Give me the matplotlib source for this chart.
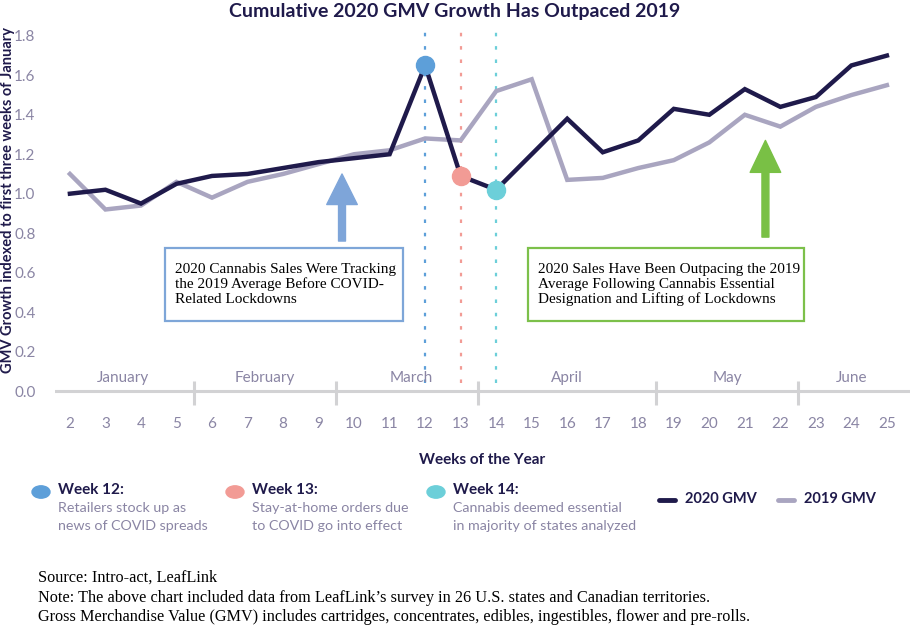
import matplotlib
matplotlib.use('Agg')
import matplotlib.pyplot as plt
from matplotlib.lines import Line2D
from matplotlib.patches import Rectangle, Circle

# Data
weeks = list(range(2, 26))
gmv_2020 = [1.00, 1.02, 0.95, 1.05, 1.09, 1.10, 1.13, 1.16, 1.18, 1.20, 1.65, 1.09,
            1.02, 1.20, 1.38, 1.21, 1.27, 1.43, 1.40, 1.53, 1.44, 1.49, 1.65, 1.70]
gmv_2019 = [1.10, 0.92, 0.94, 1.06, 0.98, 1.06, 1.10, 1.15, 1.20, 1.22, 1.28, 1.27,
            1.52, 1.58, 1.07, 1.08, 1.13, 1.17, 1.26, 1.40, 1.34, 1.44, 1.50, 1.55]
months = ['January', 'February', 'March', 'April', 'May', 'June']
month_centers = [3.5, 7.5, 11.6, 16.0, 20.5, 24.0]
month_breaks = [5.5, 9.5, 13.5, 18.5, 22.5]
event_weeks = [12, 13, 14]
event_colors = ['#5d9fd9', '#f29b95', '#6ccfd9']
event_titles = ['Week 12:', 'Week 13:', 'Week 14:']
event_notes = ['Retailers stock up as\nnews of COVID spreads',
               'Stay-at-home orders due\nto COVID go into effect',
               'Cannabis deemed essential\nin majority of states analyzed']

NAVY = '#1f1a4b'
LAV = '#a9a5c0'
GREY_TXT = '#8a85a4'

plt.rcParams['font.family'] = ['Lato', 'DejaVu Sans']

W, H = 912, 626
fig = plt.figure(figsize=(9.12, 6.26), dpi=100)
ax = fig.add_axes([55 / W, 1 - 406 / H, (910 - 55) / W, (406 - 25) / H])

ax.set_xlim(1.58, 25.65)
ax.set_ylim(-0.076, 1.855)

# event markers
for w, c in zip(event_weeks, event_colors):
    ax.axvline(w, ymin=0.06, ymax=0.99, color=c, lw=1.6, ls=(0, (1.6, 4.4)), zorder=1)

ax.plot(weeks, gmv_2019, color=LAV, lw=3.2, zorder=2, solid_joinstyle='miter')
ax.plot(weeks, gmv_2020, color=NAVY, lw=3.2, zorder=3, solid_joinstyle='miter')
for w, c in zip(event_weeks, event_colors):
    ax.plot(w, gmv_2020[weeks.index(w)], 'o', ms=13, color=c, zorder=4)

# baseline and month separators
ax.axhline(0, color='#d2d2d4', lw=2.2, zorder=0)
ax.vlines(month_breaks, -0.07, 0.05, color='#d2d2d4', lw=2.2, zorder=0)
for m, xc in zip(months, month_centers):
    ax.text(xc, 0.065, m, ha='center', va='center', fontsize=11, color=GREY_TXT)

ax.set_xticks(weeks)
ax.set_xticklabels([str(w) for w in weeks])
ax.set_yticks([0.0, 0.2, 0.4, 0.6, 0.8, 1.0, 1.2, 1.4, 1.6, 1.8])
ax.set_yticklabels(['0.0', '0.2', '0.4', '0.6', '0.8', '1.0', '1.2', '1.4', '1.6', '1.8'])
ax.tick_params(axis='x', length=0, pad=8, labelsize=11, labelcolor=GREY_TXT)
ax.tick_params(axis='y', length=0, pad=14, labelsize=11, labelcolor=GREY_TXT)
for s in ax.spines.values():
    s.set_visible(False)

ax.set_xlabel('Weeks of the Year', fontsize=11, fontweight='bold', color=NAVY, labelpad=16)
fig.text(8 / W, 1 - 200 / H, 'GMV Growth indexed to first three weeks of January',
         rotation=90, ha='center', va='center', fontsize=10.5, fontweight='bold', color=NAVY)
fig.text(455 / W, 1 - 12 / H, 'Cumulative 2020 GMV Growth Has Outpaced 2019',
         ha='center', va='center', fontsize=14, fontweight='bold', color=NAVY)

# arrows
ax.annotate('', xy=(9.66, 1.10), xytext=(9.66, 0.76),
            arrowprops=dict(width=5, headwidth=22, headlength=22, color='#7ea5d9', shrink=0))
ax.annotate('', xy=(21.58, 1.27), xytext=(21.58, 0.78),
            arrowprops=dict(width=5, headwidth=22, headlength=23, color='#79c045', shrink=0))

# annotation boxes
boxes = [
    (165, 248, 238, 73, '#7ea6d8',
     '2020 Cannabis Sales Were Tracking\nthe 2019 Average Before COVID-\nRelated Lockdowns'),
    (528, 248, 276, 73, '#7cc04a',
     '2020 Sales Have Been Outpacing the 2019\nAverage Following Cannabis Essential\nDesignation and Lifting of Lockdowns'),
]
for x0, y0, bw, bh, ec, txt in boxes:
    fig.patches.append(Rectangle((x0 / W, 1 - (y0 + bh) / H), bw / W, bh / H,
                                 transform=fig.transFigure, fill=True, fc='white',
                                 ec=ec, lw=1.6, zorder=5))
    fig.text((x0 + 10) / W, 1 - (y0 + bh / 2) / H, txt, ha='left', va='center',
             fontsize=11, family='Liberation Serif', linespacing=1.15, color='black',
             zorder=6)

# bottom legend
legend_x = [41, 235, 436]
for lx, c, t, n in zip(legend_x, event_colors, event_titles, event_notes):
    fig.patches.append(Circle((lx / W, 1 - 492 / H), 9 / W, transform=fig.transFigure,
                              color=c))
    fig.text((lx + 17) / W, 1 - 490 / H, t, ha='left', va='center', fontsize=11,
             fontweight='bold', color=NAVY)
    fig.text((lx + 17) / W, 1 - 517 / H, n, ha='left', va='center', fontsize=10.3,
             color=GREY_TXT, linespacing=1.5)

for x0, c, lab in [(659, NAVY, '2020 GMV'), (778, LAV, '2019 GMV')]:
    fig.add_artist(Line2D([x0 / W, (x0 + 16) / W], [1 - 500 / H, 1 - 500 / H],
                          color=c, lw=3.5, solid_capstyle='round',
                          transform=fig.transFigure))
    fig.text((x0 + 26) / W, 1 - 499 / H, lab, ha='left', va='center', fontsize=10.5,
             fontweight='bold', color=NAVY)

notes = ['Source: Intro-act, LeafLink',
         'Note: The above chart included data from LeafLink\u2019s survey in 26 U.S. states and Canadian territories.',
         'Gross Merchandise Value (GMV) includes cartridges, concentrates, edibles, ingestibles, flower and pre-rolls.']
for i, line in enumerate(notes):
    fig.text(38 / W, 1 - (578 + i * 19.5) / H, line, ha='left', va='center',
             fontsize=11.7, family='Liberation Serif', color='black')

fig.savefig('out.png', dpi=100)
